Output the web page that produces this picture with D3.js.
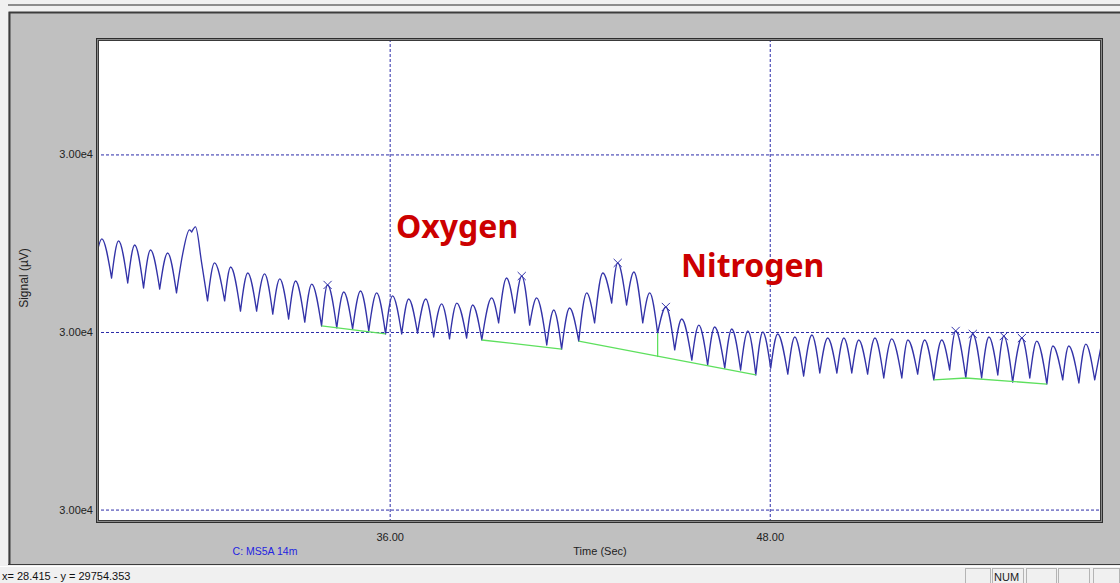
<!DOCTYPE html>
<html>
<head>
<meta charset="utf-8">
<script src="https://cdn.jsdelivr.net/npm/d3@7"></script>
<style>
  html, body { margin: 0; padding: 0; background: #f0f0f0; }
  svg { display: block; }
</style>
</head>
<body>
<svg id="chart" width="1120" height="583"></svg>
<script>
// ---- Detector trace (time in s, signal in µV) ----
const traceTime = [
  26.78, 26.91, 27.22, 27.44, 27.73, 27.95, 28.23, 28.45, 28.74, 28.99,
  29.27, 29.46, 29.68, 29.75, 29.87, 30.06, 30.25, 30.47, 30.79, 30.98,
  31.29, 31.52, 31.80, 32.05, 32.31, 32.53, 32.81, 33.03, 33.32, 33.54,
  33.85, 34.04, 34.33, 34.55, 34.83, 35.08, 35.34, 35.59, 35.87, 36.09,
  36.38, 36.60, 36.88, 37.14, 37.39, 37.64, 37.89, 38.12, 38.43, 38.62,
  38.91, 39.22, 39.44, 39.69, 39.95, 40.17, 40.42, 40.64, 40.96, 41.18,
  41.43, 41.68, 41.97, 42.22, 42.47, 42.73, 43.01, 43.20, 43.48, 43.71,
  43.99, 44.21, 44.46, 44.72, 45.00, 45.22, 45.54, 45.76, 46.04, 46.26,
  46.58, 46.80, 47.08, 47.31, 47.56, 47.78, 48.03, 48.25, 48.57, 48.79,
  49.07, 49.33, 49.58, 49.83, 50.12, 50.34, 50.59, 50.81, 51.09, 51.32,
  51.60, 51.85, 52.17, 52.36, 52.67, 52.89, 53.18, 53.43, 53.68, 53.87,
  54.19, 54.41, 54.69, 54.92, 55.20, 55.39, 55.67, 55.96, 56.21, 56.43,
  56.75, 56.94, 57.25, 57.44, 57.76, 57.98, 58.26, 58.45
];
const traceSignal = [
  30004.62, 30005.24, 30003.04, 30005.13, 30002.76, 30004.90, 30002.48, 30004.62, 30002.42, 30004.45,
  30002.20, 30004.34, 30005.75, 30005.63, 30005.92, 30003.94, 30001.75, 30003.89, 30001.75, 30003.66,
  30001.18, 30003.32, 30001.18, 30003.27, 30001.01, 30002.99, 30000.73, 30002.87, 30000.56, 30002.70,
  30000.34, 30002.65, 30000.23, 30002.25, 30000.17, 30002.31, 30000.06, 30002.20, 29999.89, 30002.03,
  29999.89, 30001.86, 29999.94, 30001.86, 29999.72, 30001.58, 29999.61, 30001.63, 29999.66, 30001.52,
  29999.55, 30001.92, 30000.51, 30003.04, 30001.07, 30003.15, 30000.39, 30001.92, 29999.27, 30001.24,
  29999.04, 30001.35, 29999.49, 30002.20, 30000.51, 30003.32, 30001.63, 30003.89, 30001.52, 30003.38,
  30000.51, 30002.20, 29999.94, 30001.41, 29998.99, 30000.73, 29998.42, 30000.39, 29998.14, 30000.28,
  29997.97, 30000.17, 29997.86, 30000.06, 29997.58, 30000.00, 29997.97, 29999.89, 29997.63, 29999.72,
  29997.52, 29999.83, 29997.69, 29999.66, 29997.69, 29999.66, 29997.69, 29999.55, 29997.63, 29999.66,
  29997.41, 29999.61, 29997.41, 29999.55, 29997.63, 29999.55, 29997.30, 29999.55, 29997.86, 30000.06,
  29997.41, 29999.89, 29997.41, 29999.72, 29997.58, 29999.77, 29997.18, 29999.66, 29997.41, 29999.49,
  29997.07, 29999.21, 29997.30, 29999.21, 29997.13, 29999.32, 29997.30, 29999.10
];

// Detected peak apexes (x marks)
const peakTime   = [34.04, 40.17, 43.20, 44.72, 53.87, 54.41, 55.39, 55.96];
const peakSignal = [30002.65, 30003.15, 30003.89, 30001.41, 30000.06, 29999.89, 29999.77, 29999.66];

// Integration baselines (green), each a list of [time, signal] vertices
const baselines = [
  [[33.85, 30000.34], [35.87, 29999.89]],
  [[38.91, 29999.55], [41.43, 29999.04]],
  [[41.97, 29999.49], [47.56, 29997.58]],
  [[53.18, 29997.30], [54.19, 29997.41], [56.75, 29997.07]]
];
// Perpendicular drop between co-eluting peaks
const dropLine = [[44.46, 29999.94], [44.46, 29998.59]];

// Axes
const timeDomain = [26.76, 58.49];
const signalDomain = [29989.3, 30016.5];
const timeTicks = [36, 48];
const signalTicks = [29990, 30000, 30010];

// Annotations
const compoundNames = ["Oxygen", "Nitrogen"];
const compoundTime = [36.20, 45.20];
const compoundSignal = [30005.3, 30003.1];

const channelLabel = "C: MS5A 14m";
const xTitle = "Time (Sec)";
const yTitle = "Signal (µV)";
const cursorReadout = "x= 28.415 - y = 29754.353";
const statusPanes = ["", "NUM", "", "", ""];

// ---- Drawing ----
const UI_FONT = "'Liberation Sans', Arial, sans-serif";
const svg = d3.select("#chart").style("font-family", UI_FONT);
const W = 1120, H = 583;
const plot = { left: 97, top: 39, right: 1102, bottom: 522 };

const x = d3.scaleLinear().domain(timeDomain).range([plot.left, plot.right]);
const y = d3.scaleLinear().domain(signalDomain).range([plot.bottom, plot.top]);

// window chrome
svg.append("rect").attr("width", W).attr("height", H).attr("fill", "#f0f0f0");
svg.append("rect").attr("x", 8).attr("y", 4).attr("width", W - 8).attr("height", 2).attr("fill", "#8c8c8c");
svg.append("rect").attr("x", 8).attr("y", 12).attr("width", W - 8).attr("height", 552)
  .attr("fill", "#c0c0c0");
svg.append("path").attr("d", "M9.5,564 V12.5 H1120").attr("fill", "none").attr("stroke", "#3c3c3c").attr("stroke-width", 2);
svg.append("line").attr("x1", 8).attr("x2", W).attr("y1", 564.5).attr("y2", 564.5).attr("stroke", "#3c3c3c");

// plot background
svg.append("rect").attr("x", plot.left).attr("y", plot.top)
  .attr("width", plot.right - plot.left).attr("height", plot.bottom - plot.top)
  .attr("fill", "#ffffff");

const gridColor = "#2a2aa8";
const fmt = v => d3.format(".2e")(v).replace("e+", "e");

// Y axis with horizontal grid
const gy = svg.append("g").attr("transform", `translate(${plot.left - 1},0)`)
  .call(d3.axisLeft(y).tickValues(signalTicks).tickFormat(fmt)
    .tickSizeInner(-(plot.right - plot.left + 1)).tickSizeOuter(0).tickPadding(3));
gy.select(".domain").remove();
gy.selectAll(".tick line").attr("stroke", gridColor).attr("stroke-dasharray", "3,2");
gy.selectAll(".tick text").attr("fill", "#222").attr("font-size", 11).style("font-family", UI_FONT);

// X axis with vertical grid
const gx = svg.append("g").attr("transform", `translate(0,${plot.bottom})`)
  .call(d3.axisBottom(x).tickValues(timeTicks).tickFormat(d3.format(".2f"))
    .tickSizeInner(-(plot.bottom - plot.top)).tickSizeOuter(0).tickPadding(11));
gx.select(".domain").remove();
gx.selectAll(".tick line").attr("stroke", gridColor).attr("stroke-dasharray", "3,2");
gx.selectAll(".tick text").attr("fill", "#222").attr("font-size", 11).style("font-family", UI_FONT);

// Trace: each cycle drawn from valley to valley so valleys stay sharp
const pts = traceTime.map((t, i) => [t, traceSignal[i]]);
const cuts = [0];
for (let i = 1; i < pts.length - 1; i++) {
  if (pts[i][1] < pts[i - 1][1] && pts[i][1] < pts[i + 1][1]) cuts.push(i);
}
cuts.push(pts.length - 1);
const seg = d3.line().x(d => x(d[0])).y(d => y(d[1])).curve(d3.curveMonotoneX);
let dTrace = "";
for (let k = 0; k < cuts.length - 1; k++) {
  const part = seg(pts.slice(cuts[k], cuts[k + 1] + 1));
  dTrace += k === 0 ? part : part.replace(/^M[^CLc]*/, "");
}
svg.append("path").attr("d", dTrace).attr("fill", "none")
  .attr("stroke", "#3333a8").attr("stroke-width", 1.35).attr("stroke-linejoin", "round");

// Baselines
const bl = d3.line().x(d => x(d[0])).y(d => y(d[1]));
svg.selectAll("path.baseline").data(baselines.concat([dropLine])).join("path")
  .attr("class", "baseline").attr("d", bl).attr("fill", "none")
  .attr("stroke", "#5ee05e").attr("stroke-width", 1.3);

// Peak apex marks
svg.selectAll("path.apex").data(peakTime).join("path")
  .attr("class", "apex")
  .attr("transform", (d, i) => `translate(${x(d)},${y(peakSignal[i])})`)
  .attr("d", d3.symbol().type(d3.symbolX).size(45))
  .attr("fill", "none").attr("stroke", "#3333aa").attr("stroke-width", 1);

// Compound names
svg.selectAll("text.compound").data(compoundNames).join("text")
  .attr("class", "compound")
  .attr("x", (d, i) => x(compoundTime[i]))
  .attr("y", (d, i) => y(compoundSignal[i]))
  .style("font-family", "'Noto Sans', 'Open Sans', sans-serif")
  .attr("font-weight", "bold").attr("font-size", 32)
  .attr("fill", "#cc0000").text(d => d);

// Plot frame (double border)
svg.append("rect").attr("x", plot.left - 0.5).attr("y", plot.top - 0.5)
  .attr("width", plot.right - plot.left + 1).attr("height", plot.bottom - plot.top + 1)
  .attr("fill", "none").attr("stroke", "#2e2e2e");
svg.append("rect").attr("x", plot.left + 0.5).attr("y", plot.top + 0.5)
  .attr("width", plot.right - plot.left - 1).attr("height", plot.bottom - plot.top - 1)
  .attr("fill", "none").attr("stroke", "#8a8a8a");
svg.append("rect").attr("x", plot.left + 1.5).attr("y", plot.top + 1.5)
  .attr("width", plot.right - plot.left - 3).attr("height", plot.bottom - plot.top - 3)
  .attr("fill", "none").attr("stroke", "#3a3a3a");

// Titles
svg.append("text").attr("x", 600).attr("y", 555).attr("text-anchor", "middle")
  .attr("font-size", 11).attr("fill", "#222").text(xTitle);
svg.append("text").attr("transform", "translate(28,278) rotate(-90)")
  .attr("text-anchor", "middle").attr("font-size", 12).attr("fill", "#222").text(yTitle);
svg.append("text").attr("x", 265).attr("y", 555).attr("text-anchor", "middle")
  .attr("font-size", 10.5).attr("fill", "#2424e0").text(channelLabel);

// Status bar
svg.append("line").attr("x1", 0).attr("x2", W).attr("y1", 566.5).attr("y2", 566.5).attr("stroke", "#ffffff");
svg.append("text").attr("x", 2).attr("y", 580).attr("font-size", 11).attr("fill", "#111").text(cursorReadout);
const paneX = [965, 992, 1026, 1058, 1093];
const paneW = [26, 32, 31, 32, 27];
statusPanes.forEach((label, i) => {
  svg.append("rect").attr("x", paneX[i] + 0.5).attr("y", 568.5).attr("width", paneW[i] - 1).attr("height", 16)
    .attr("fill", "none").attr("stroke", "#b4b4b4");
  if (label) svg.append("text").attr("x", paneX[i] + 2).attr("y", 581)
    .attr("font-size", 11).attr("fill", "#222").text(label);
});
</script>
</body>
</html>
